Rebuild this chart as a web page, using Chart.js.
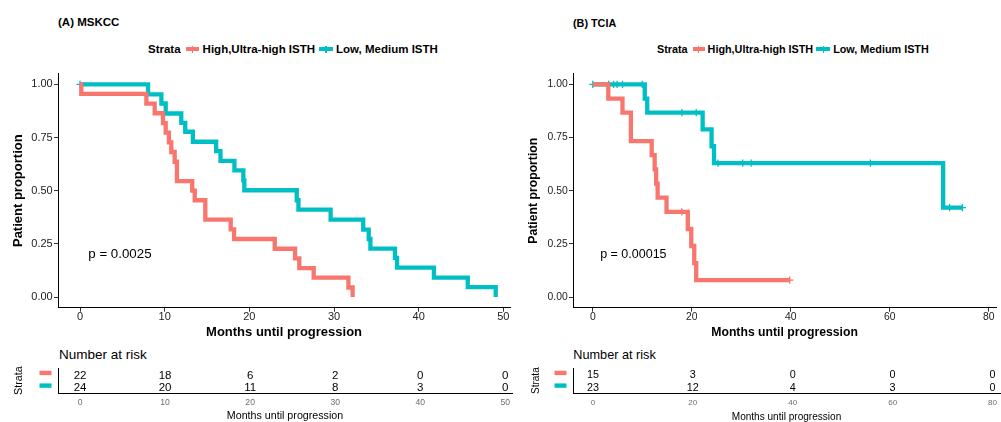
<!DOCTYPE html>
<html><head><meta charset="utf-8">
<script src="https://cdn.jsdelivr.net/npm/chart.js@4.4.0/dist/chart.umd.min.js"></script>
<style>
html,body{margin:0;padding:0;background:#fff;}
body{width:1001px;height:422px;position:relative;overflow:hidden;font-family:"Liberation Sans",Arial,Helvetica,sans-serif;color:#000;}
canvas{position:absolute;}
.t{position:absolute;white-space:nowrap;color:#000;}
.leg{position:absolute;display:flex;align-items:center;white-space:nowrap;font-weight:bold;color:#000;}
.key{display:inline-block;height:4px;position:relative;}
.key::after{content:"";position:absolute;left:50%;top:-1.5px;width:1.2px;height:7px;margin-left:-0.6px;background:inherit;}
</style></head><body>

<div class="t" style="left:58px;top:17.2px;font-size:11.5px;line-height:11.5px;font-weight:bold;">(A) MSKCC</div>
<div class="t" style="left:573px;top:17.6px;font-size:10.8px;line-height:10.8px;font-weight:bold;">(B) TCIA</div>

<div class="leg" style="left:148px;top:43px;height:12px;font-size:11.5px;">
  <span style="margin-right:5px">Strata</span>
  <span class="key" style="width:13px;background:#F8766D;margin-right:4px"></span>
  <span id="legA1" style="margin-right:4px"></span>
  <span class="key" style="width:14px;background:#00BFC4;margin-right:3px"></span>
  <span id="legA2"></span>
</div>
<div class="leg" style="left:657px;top:43.5px;height:11px;font-size:10.8px;">
  <span style="margin-right:5px">Strata</span>
  <span class="key" style="width:12px;background:#F8766D;margin-right:3px"></span>
  <span id="legB1" style="margin-right:3px"></span>
  <span class="key" style="width:14px;background:#00BFC4;margin-right:3px"></span>
  <span id="legB2"></span>
</div>

<div class="t" style="left:59px;top:348.2px;font-size:13.5px;line-height:13.5px;">Number at risk</div>
<div class="t" style="left:573.3px;top:348.6px;font-size:12.7px;line-height:12.7px;">Number at risk</div>

<canvas id="kmA" width="515" height="345" style="left:0;top:0"></canvas>
<canvas id="kmB" width="486" height="345" style="left:515px;top:0"></canvas>
<canvas id="rtA" width="515" height="82" style="left:0;top:340px"></canvas>
<canvas id="rtB" width="486" height="82" style="left:515px;top:340px"></canvas>

<script>
// ---------- DATA ----------
const strataLabels = ['High,Ultra-high ISTH', 'Low, Medium ISTH'];

// (A) MSKCC
const mskccHighTime = [0, 0.15, 7.84, 8.82, 9.8, 10.12, 10.5, 10.78, 11.18, 11.45, 13.25, 13.55, 14.8, 17.8, 18.2, 23.0, 25.4, 25.9, 27.6, 31.7, 32.2];
const mskccHighSurv = [1, 0.955, 0.909, 0.864, 0.818, 0.773, 0.727, 0.682, 0.636, 0.545, 0.500, 0.455, 0.364, 0.318, 0.273, 0.227, 0.182, 0.136, 0.091, 0.045, 0];
const mskccHighCensorTime = [];
const mskccHighCensorSurv = [];
const mskccLowTime = [0, 8.04, 9.61, 10.12, 11.96, 12.43, 13.33, 16.08, 16.59, 18.24, 19.29, 19.41, 25.6, 25.8, 29.6, 33.45, 34.1, 34.3, 37.2, 37.45, 41.8, 45.8, 49.1];
const mskccLowSurv = [1, 0.953, 0.910, 0.863, 0.819, 0.777, 0.730, 0.686, 0.640, 0.596, 0.549, 0.502, 0.455, 0.411, 0.364, 0.317, 0.273, 0.228, 0.184, 0.138, 0.091, 0.047, 0];
const mskccLowCensorTime = [0];
const mskccLowCensorSurv = [1];
const mskccXTicks = [0, 10, 20, 30, 40, 50];
const mskccRiskHigh = [22, 18, 6, 2, 0, 0];
const mskccRiskLow = [24, 20, 11, 8, 3, 0];
const mskccPval = 'p = 0.0025';
const mskccPvalX = 0.98;

// (B) TCIA
const tciaHighTime = [0, 3.13, 6.0, 7.7, 11.9, 12.5, 12.8, 13.1, 14.9, 19.2, 19.9, 20.5, 20.9, 39.8];
const tciaHighSurv = [1, 0.933, 0.867, 0.733, 0.667, 0.600, 0.533, 0.467, 0.400, 0.320, 0.240, 0.160, 0.080, 0.080];
const tciaHighCensorTime = [18.0, 39.8];
const tciaHighCensorSurv = [0.400, 0.080];
const tciaLowTime = [0, 10.5, 11.0, 22.2, 24.0, 24.5, 70.8, 74.7];
const tciaLowSurv = [1, 0.933, 0.867, 0.788, 0.709, 0.630, 0.420, 0.420];
const tciaLowCensorTime = [0, 3.2, 4.2, 4.9, 6.0, 10.0, 18.0, 20.9, 25.3, 30.3, 32.0, 56.1, 72.1, 74.7];
const tciaLowCensorSurv = [1, 1, 1, 1, 1, 1, 0.867, 0.867, 0.630, 0.630, 0.630, 0.630, 0.420, 0.420];
const tciaXTicks = [0, 20, 40, 60, 80];
const tciaRiskHigh = [15, 3, 0, 0, 0];
const tciaRiskLow = [23, 12, 4, 3, 0];
const tciaPval = 'p = 0.00015';
const tciaPvalX = 1.49;

const yTicks = [0, 0.25, 0.5, 0.75, 1];
const pvalY = 0.2;

// ---------- STYLE ----------
const RED = '#F8766D', TEAL = '#00BFC4';
const F = '"Liberation Sans", Arial, Helvetica, sans-serif';

document.getElementById('legA1').textContent = strataLabels[0];
document.getElementById('legA2').textContent = strataLabels[1];
document.getElementById('legB1').textContent = strataLabels[0];
document.getElementById('legB2').textContent = strataLabels[1];

function pts(t, s) { return t.map((v, i) => ({x: v, y: s[i]})); }

const pvalPlugin = {
  id: 'pval',
  afterDatasetsDraw(chart) {
    const o = chart.options.plugins.pval;
    const ctx = chart.ctx;
    ctx.save();
    ctx.font = o.size + 'px ' + F;
    ctx.fillStyle = '#000';
    ctx.textAlign = 'left';
    ctx.textBaseline = 'middle';
    ctx.fillText(o.text, chart.scales.x.getPixelForValue(o.x), chart.scales.y.getPixelForValue(o.y));
    ctx.restore();
  }
};

const riskPlugin = {
  id: 'risk',
  afterDatasetsDraw(chart) {
    const o = chart.options.plugins.risk;
    const ctx = chart.ctx;
    ctx.save();
    chart.data.datasets.forEach((ds, di) => {
      const meta = chart.getDatasetMeta(di);
      ctx.font = o.size + 'px ' + F;
      ctx.fillStyle = '#000';
      ctx.textAlign = 'center';
      ctx.textBaseline = 'middle';
      meta.data.forEach((el, i) => { ctx.fillText(String(ds.data[i].n), el.x, el.y + 0.5); });
      const y = chart.scales.y.getPixelForValue(ds.data[0].y);
      ctx.fillStyle = ds.keyColor;
      ctx.fillRect(chart.chartArea.left - 18.5, y - 4.2, 12, 4.4);
    });
    ctx.restore();
  }
};

function kmChart(id, p) {
  const k = p.k;
  const lineDs = (t, s, c) => ({data: pts(t, s), showLine: true, stepped: true, borderColor: c, borderWidth: 4.3,
    pointRadius: 0, pointHoverRadius: 0, borderCapStyle: 'butt', borderJoinStyle: 'miter', fill: false});
  const cenDs = (t, s, c) => ({data: pts(t, s), showLine: false, pointStyle: 'cross', pointRadius: 3.6,
    borderColor: c, backgroundColor: c, borderWidth: 1.3, pointHoverRadius: 0});
  return new Chart(document.getElementById(id), {
    type: 'scatter',
    data: {datasets: [
      lineDs(p.hT, p.hS, RED), lineDs(p.lT, p.lS, TEAL),
      cenDs(p.hcT, p.hcS, RED), cenDs(p.lcT, p.lcS, TEAL)
    ]},
    options: {
      responsive: false, animation: false, devicePixelRatio: 1, events: [],
      layout: {padding: {top: 73.7, right: p.pr, left: 0, bottom: 0}},
      plugins: {legend: {display: false}, tooltip: {enabled: false}, title: {display: false},
        pval: {text: p.pText, x: p.pX, y: pvalY, size: 13.3 * k}},
      scales: {
        x: {type: 'linear', min: p.xmin, max: p.xmax,
          afterBuildTicks: s => { s.ticks = p.xt.map(v => ({value: v})); },
          afterFit: s => { s.height = 37.3; },
          grid: {display: true, drawOnChartArea: false, drawTicks: true, tickLength: 4, color: '#333', lineWidth: 1},
          border: {display: true, color: '#000', width: 1},
          ticks: {font: {size: 11 * k, family: F, lineHeight: 1}, color: '#222', padding: 0, maxRotation: 0, autoSkip: false,
            callback: v => String(v)},
          title: {display: true, text: 'Months until progression', color: '#000',
            font: {size: 13 * k, weight: 'bold', family: F, lineHeight: 1.2}, padding: {top: 0, bottom: 5.2}}
        },
        y: {type: 'linear', min: -0.05, max: 1.05,
          afterBuildTicks: s => { s.ticks = yTicks.map(v => ({value: v})); },
          afterFit: s => { s.width = 58; },
          grid: {display: true, drawOnChartArea: false, drawTicks: true, tickLength: 4, color: '#333', lineWidth: 1},
          border: {display: true, color: '#000', width: 1},
          ticks: {font: {size: 11 * k, family: F}, color: '#222', padding: 1.3, callback: v => Number(v).toFixed(2)},
          title: {display: true, text: 'Patient proportion', color: '#000',
            font: {size: 13 * k, weight: 'bold', family: F, lineHeight: 1.2}, padding: {top: p.ytp, bottom: 0}}
        }
      }
    },
    plugins: [pvalPlugin]
  });
}

function riskChart(id, p) {
  const k = p.k;
  return new Chart(document.getElementById(id), {
    type: 'scatter',
    data: {datasets: [
      {data: p.rt.map((t, i) => ({x: t, y: 2, n: p.rh[i]})), pointRadius: 0, keyColor: RED},
      {data: p.rt.map((t, i) => ({x: t, y: 1, n: p.rl[i]})), pointRadius: 0, keyColor: TEAL}
    ]},
    options: {
      responsive: false, animation: false, devicePixelRatio: 1, events: [],
      layout: {padding: {top: 28, right: p.pr, left: 0, bottom: 0}},
      plugins: {legend: {display: false}, tooltip: {enabled: false}, risk: {size: 11.5 * k}},
      scales: {
        x: {type: 'linear', min: p.xmin, max: p.xmax,
          afterBuildTicks: s => { s.ticks = p.xt.map(v => ({value: v})); },
          afterFit: s => { s.height = 28.7; },
          grid: {display: true, drawOnChartArea: false, drawTicks: true, tickLength: 3, color: 'rgba(0,0,0,0)'},
          border: {display: true, color: '#000', width: 1},
          ticks: {font: {size: 8.6 * k, family: F, lineHeight: 1.2}, color: '#6e6e6e', padding: 1.3, maxRotation: 0, autoSkip: false,
            callback: v => String(v)},
          title: {display: true, text: 'Months until progression', color: '#000',
            font: {size: 10.7 * k, family: F, lineHeight: 1}, padding: {top: 0, bottom: 0.2}}
        },
        y: {type: 'linear', min: 0.55, max: 2.55,
          afterFit: s => { s.width = 58; },
          grid: {display: false},
          border: {display: true, color: '#000', width: 1},
          ticks: {display: false},
          title: {display: true, text: 'Strata', color: '#000',
            font: {size: 10.7 * k, family: F, lineHeight: 1}, padding: {top: p.stp, bottom: 0}}
        }
      }
    },
    plugins: [riskPlugin]
  });
}

kmChart('kmA', {k: 1, pr: 3, xmin: -2.6, xmax: 50.8, xt: mskccXTicks, ytp: 10.5,
  hT: mskccHighTime, hS: mskccHighSurv, lT: mskccLowTime, lS: mskccLowSurv,
  hcT: mskccHighCensorTime, hcS: mskccHighCensorSurv, lcT: mskccLowCensorTime, lcS: mskccLowCensorSurv,
  pText: mskccPval, pX: mskccPvalX});
kmChart('kmB', {k: 0.94, pr: 1, xmin: -4, xmax: 81.5, xt: tciaXTicks, ytp: 11,
  hT: tciaHighTime, hS: tciaHighSurv, lT: tciaLowTime, lS: tciaLowSurv,
  hcT: tciaHighCensorTime, hcS: tciaHighCensorSurv, lcT: tciaLowCensorTime, lcS: tciaLowCensorSurv,
  pText: tciaPval, pX: tciaPvalX});
riskChart('rtA', {k: 1, pr: 3, xmin: -2.6, xmax: 50.8, xt: mskccXTicks, rt: mskccXTicks, rh: mskccRiskHigh, rl: mskccRiskLow, stp: 14});
riskChart('rtB', {k: 0.94, pr: 1, xmin: -4, xmax: 81.5, xt: tciaXTicks, rt: tciaXTicks, rh: tciaRiskHigh, rl: tciaRiskLow, stp: 16.5});
</script>
</body></html>
